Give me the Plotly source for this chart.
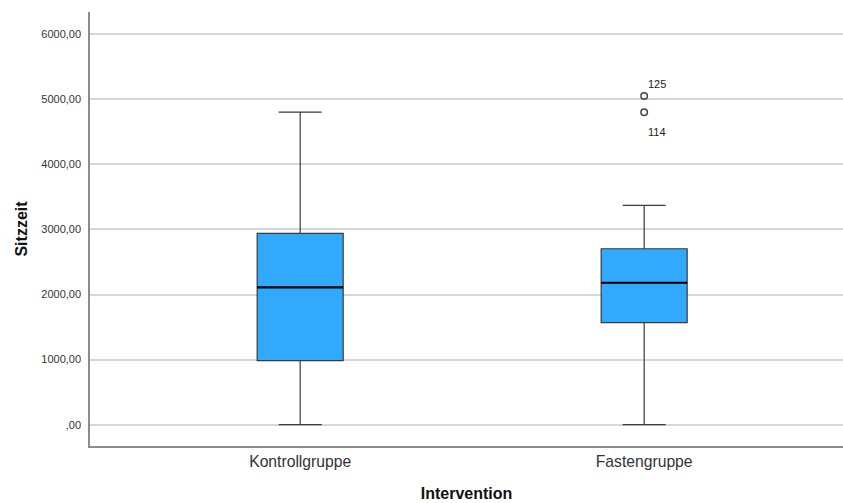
import plotly.graph_objects as go

# ---- data ----
groups = ["Kontrollgruppe", "Fastengruppe"]
q1 = [983, 1567]
median = [2110, 2181]
q3 = [2940, 2703]
lower_fence = [0, 0]
upper_fence = [4803, 3370]

outlier_group = [1, 1]
outlier_values = [5050, 4800]
outlier_ids = ["125", "114"]

y_ticks = [0, 1000, 2000, 3000, 4000, 5000, 6000]
y_tick_labels = [",00", "1000,00", "2000,00", "3000,00", "4000,00", "5000,00", "6000,00"]

# ---- styles ----
BOX_FILL = "#31aafe"
LINE = "#3a3a3a"
BOX_W = 0.25
FONT = "Liberation Sans, Arial, sans-serif"

fig = go.Figure()

positions = list(range(len(groups)))
fig.add_trace(go.Box(
    x=positions,
    q1=q1, median=median, q3=q3,
    lowerfence=lower_fence, upperfence=upper_fence,
    fillcolor=BOX_FILL,
    line=dict(color=LINE, width=1.2),
    width=BOX_W,
    whiskerwidth=0.5,
    boxpoints=False,
    showlegend=False,
    hoverinfo="skip",
))

# thicker median line
for p, m in zip(positions, median):
    fig.add_trace(go.Scatter(
        x=[p - BOX_W / 2, p + BOX_W / 2], y=[m, m],
        mode="lines", line=dict(color="#000000", width=2.2),
        showlegend=False, hoverinfo="skip",
    ))

# outliers
fig.add_trace(go.Scatter(
    x=outlier_group, y=outlier_values,
    mode="markers",
    marker=dict(symbol="circle-open", size=6.5, color="#444444", line=dict(width=1.5, color="#444444")),
    showlegend=False, hoverinfo="skip",
))

# outlier labels: first above-right, second below-right
shifts = [12, -20]
for g, v, t, s in zip(outlier_group, outlier_values, outlier_ids, shifts):
    fig.add_annotation(
        x=g, y=v, text=t, showarrow=False,
        xanchor="left", yanchor="middle", xshift=2, yshift=s,
        font=dict(family=FONT, size=11, color="#222222"),
    )

fig.update_layout(
    width=843, height=503,
    margin=dict(l=90, r=0, t=12, b=57),
    paper_bgcolor="white",
    plot_bgcolor="white",
    font=dict(family=FONT, color="#333333"),
)

fig.update_xaxes(
    range=[-0.611, 1.578],
    tickvals=positions, ticktext=groups,
    tickfont=dict(family=FONT, size=15.7, color="#333333"),
    showgrid=False, zeroline=False,
    showline=True, linecolor="#8c8c8c", linewidth=1.5,
    ticks="", ticklabelstandoff=0,
    title=dict(text="<b>Intervention</b>", font=dict(family=FONT, size=16, color="#111111"), standoff=19),
)

fig.update_yaxes(
    range=[-327, 6340],
    tickvals=y_ticks, ticktext=y_tick_labels,
    tickfont=dict(family=FONT, size=11, color="#333333"),
    showgrid=True, gridcolor="#d6d6d6", gridwidth=1.5,
    zeroline=False,
    showline=True, linecolor="#8c8c8c", linewidth=1.5,
    ticks="", ticklabelstandoff=5,
    title=dict(text="<b>Sitzzeit</b>", font=dict(family=FONT, size=16, color="#111111"), standoff=10),
)

fig.write_html(
    "out.html",
    config={"displayModeBar": False},
    post_script=(
        "document.body.style.margin='0';"
        "document.body.style.overflow='hidden';"
        "document.documentElement.style.overflow='hidden';"
    ),
)
